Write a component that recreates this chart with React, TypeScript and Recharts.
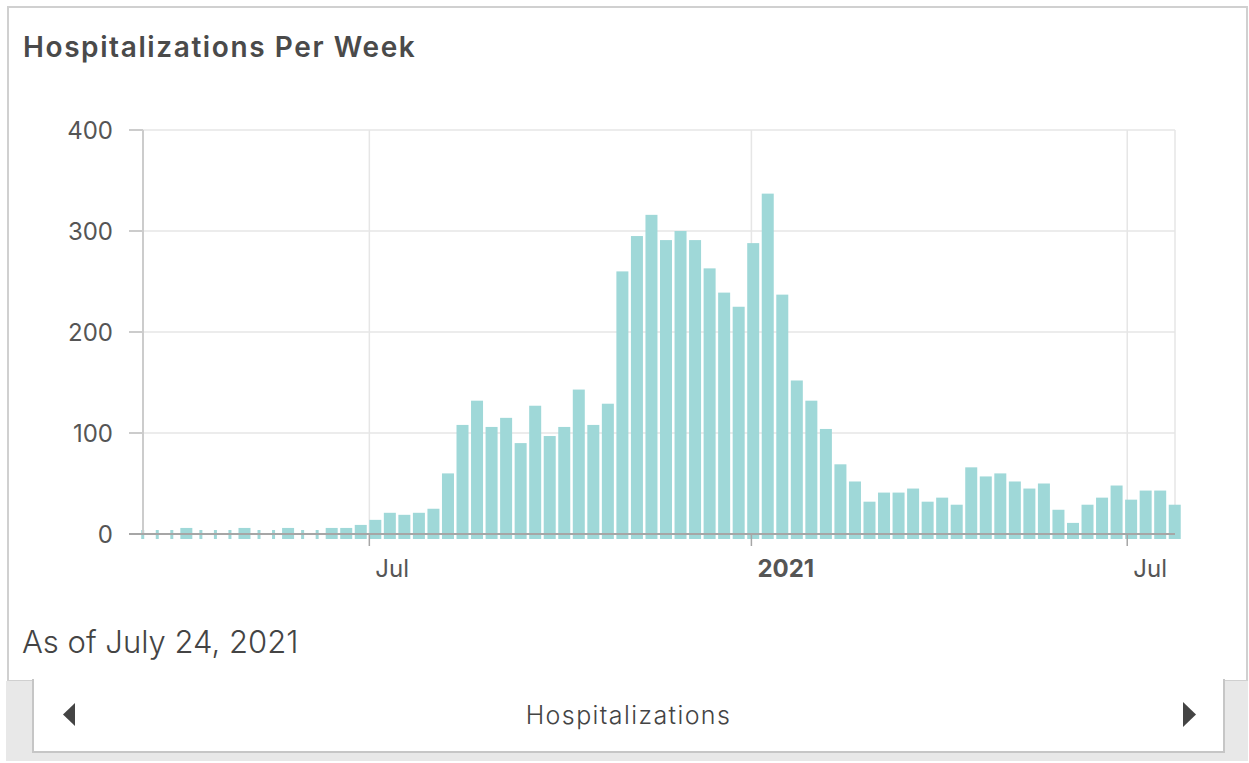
import React from 'react';
import { BarChart, Bar, XAxis, YAxis, CartesianGrid } from 'recharts';

const weekEnding: string[] = [
  '2020-03-14', '2020-03-21', '2020-03-28',
  '2020-04-04', '2020-04-11', '2020-04-18', '2020-04-25',
  '2020-05-02', '2020-05-09', '2020-05-16', '2020-05-23', '2020-05-30',
  '2020-06-06', '2020-06-13', '2020-06-20', '2020-06-27',
  '2020-07-04', '2020-07-11', '2020-07-18', '2020-07-25',
  '2020-08-01', '2020-08-08', '2020-08-15', '2020-08-22', '2020-08-29',
  '2020-09-05', '2020-09-12', '2020-09-19', '2020-09-26',
  '2020-10-03', '2020-10-10', '2020-10-17', '2020-10-24', '2020-10-31',
  '2020-11-07', '2020-11-14', '2020-11-21', '2020-11-28',
  '2020-12-05', '2020-12-12', '2020-12-19', '2020-12-26',
  '2021-01-02', '2021-01-09', '2021-01-16', '2021-01-23', '2021-01-30',
  '2021-02-06', '2021-02-13', '2021-02-20', '2021-02-27',
  '2021-03-06', '2021-03-13', '2021-03-20', '2021-03-27',
  '2021-04-03', '2021-04-10', '2021-04-17', '2021-04-24',
  '2021-05-01', '2021-05-08', '2021-05-15', '2021-05-22', '2021-05-29',
  '2021-06-05', '2021-06-12', '2021-06-19', '2021-06-26',
  '2021-07-03', '2021-07-10', '2021-07-17', '2021-07-24',
];

const hospitalizations: number[] = [
  0, 0, 0, 6, 0, 0, 0, 6, 0, 0, 6, 0, 0, 6, 6, 9,
  14, 21, 19, 21, 25, 60, 108, 132, 106, 115, 90, 127, 97, 106, 143, 108,
  129, 260, 295, 316, 291, 300, 291, 263, 239, 225, 288, 337, 237, 152, 132, 104,
  69, 52, 32, 41, 41, 45, 32, 36, 29, 66, 57, 60, 52, 45, 50, 24,
  11, 29, 36, 48, 34, 43, 43, 29,
];

const xTickDates: string[] = ['2020-07-01', '2021-01-01', '2021-07-01'];
const xTickLabels: string[] = ['Jul', '2021', 'Jul'];
const yTicks: number[] = [0, 100, 200, 300, 400];

const toTs = (d: string) => Date.parse(d + 'T00:00:00Z');

const data = weekEnding.map((d, i) => ({ t: toTs(d), value: hospitalizations[i] }));
const xTicks = xTickDates.map(toTs);

const BAR = '#9fd8d8';
const FONT = 'Inter, "Open Sans", sans-serif';

const BarShape = (props: any) => {
  const { x, y, width, height, payload } = props;
  if (!payload || !payload.value) {
    return <rect x={x + width / 2 - 1.5} y={y - 4} width={3} height={9} fill={BAR} />;
  }
  return <rect x={x} y={y} width={width} height={height + 5} fill={BAR} />;
};

const XTick = (props: any) => {
  const { x, y, payload } = props;
  const idx = xTicks.indexOf(payload.value);
  const label = idx >= 0 ? xTickLabels[idx] : '';
  const bold = label === '2021';
  return (
    <text x={x + 6} y={y + 29} textAnchor="start" fontSize={24} fontFamily={FONT}
      fontWeight={bold ? 700 : 400} fill="#555">
      {label}
    </text>
  );
};

const YTick = (props: any) => {
  const { x, y, payload } = props;
  return (
    <g>
      <line x1={x + 16} x2={x + 30} y1={y} y2={y} stroke={payload.value === 0 ? '#a6a6a6' : '#cccccc'} strokeWidth={2} />
      <text x={x} y={y + 9} textAnchor="end" fontSize={24} fontFamily={FONT} fill="#555">
        {payload.value}
      </text>
    </g>
  );
};

export default function App() {
  return (
    <div style={{ position: 'absolute', left: 0, top: 0, width: 1249, height: 763, background: '#fff', fontFamily: FONT, overflow: 'hidden' }}>
      <div style={{ position: 'absolute', left: 7, top: 6, width: 1241, height: 676, border: '2px solid #d0d0d0', boxSizing: 'border-box' }} />
      <div style={{ position: 'absolute', left: 6, top: 681, width: 1242, height: 80, background: '#e8e8e8' }} />
      <div style={{ position: 'absolute', left: 32, top: 679, width: 1193, height: 74, background: '#fff', borderLeft: '2px solid #c6c6c6', borderRight: '2px solid #c6c6c6', borderBottom: '2px solid #c6c6c6', boxSizing: 'border-box' }} />
      <div style={{ position: 'absolute', left: 23, top: 30, fontSize: 28, lineHeight: 'normal', fontWeight: 600, letterSpacing: 1.6, color: '#4a4a4a', whiteSpace: 'nowrap' }}>
        Hospitalizations Per Week
      </div>
      <div style={{ position: 'absolute', left: 0, top: 0 }}>
        <BarChart width={1249} height={680} data={data} margin={{ top: 130, right: 74, bottom: 106, left: 0 }}>
          <CartesianGrid stroke="#e6e6e6" strokeWidth={1.5} />
          <YAxis type="number" domain={[0, 400]} ticks={yTicks} width={143} tickLine={false}
            tickSize={14} tickMargin={16} axisLine={{ stroke: '#cccccc', strokeWidth: 2 }} tick={<YTick />} interval={0} />
          <Bar dataKey="value" barSize={12} fill={BAR} shape={BarShape} isAnimationActive={false} />
          <XAxis dataKey="t" type="number" scale="time" domain={[data[0].t, data[data.length - 1].t]}
            ticks={xTicks} height={40} tickSize={12} tickLine={{ stroke: '#a6a6a6', strokeWidth: 1.5 }}
            axisLine={{ stroke: '#a6a6a6', strokeWidth: 2 }} tick={<XTick />} interval={0} />
        </BarChart>
      </div>
      <div style={{ position: 'absolute', left: 22, top: 623, fontSize: 31, lineHeight: 'normal', fontWeight: 300, color: '#444', whiteSpace: 'nowrap' }}>
        As of July 24, 2021
      </div>
      <div style={{ position: 'absolute', left: 32, width: 1193, top: 700, textAlign: 'center', fontSize: 25, lineHeight: 'normal', fontWeight: 300, letterSpacing: 1.4, color: '#444' }}>
        Hospitalizations
      </div>
      <svg style={{ position: 'absolute', left: 0, top: 0 }} width={1249} height={763}>
        <polygon points="75,703 75,726 63,714.5" fill="#444" />
        <polygon points="1183,702 1183,727 1196,714.5" fill="#444" />
      </svg>
    </div>
  );
}
